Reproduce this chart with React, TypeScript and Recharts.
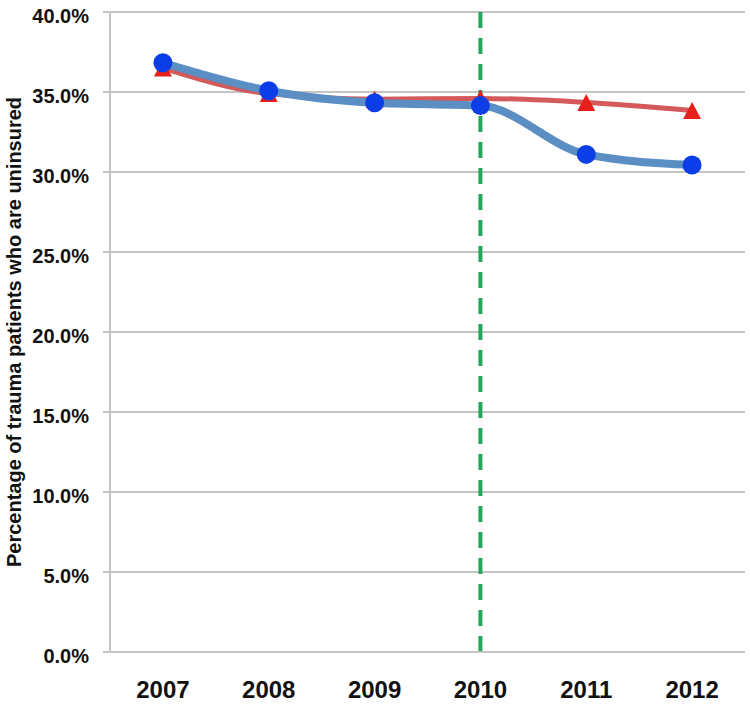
import React from 'react';
import { LineChart, Line, XAxis, YAxis, CartesianGrid, ReferenceLine } from 'recharts';

const years = ['2007', '2008', '2009', '2010', '2011', '2012'];
const bluePct = [36.83, 35.08, 34.33, 34.15, 31.1, 30.44];
const redPct = [36.5, 34.9, 34.55, 34.6, 34.35, 33.85];
const yTicks = [0, 5, 10, 15, 20, 25, 30, 35, 40];
const yearTicks = [0, 1, 2, 3, 4, 5];
const boundaryTicks = [-0.5, 0.5, 1.5, 2.5, 3.5, 4.5, 5.5];
const policyYearIndex = 3;
const yTitle = 'Percentage of trauma patients who are uninsured';

const data = years.map((y, i) => ({ i, year: y, blue: bluePct[i], red: redPct[i] }));

const FONT = '"Liberation Sans", Arial, sans-serif';
const GRID = '#c4c4c4';

const YTick = (props: any) => {
  const { x, y, payload } = props;
  return (
    <text x={x} y={y + 11} textAnchor="end" fontFamily={FONT} fontWeight={700} fontSize={20} fill="#111">
      {Number(payload.value).toFixed(1)}%
    </text>
  );
};

const XTick = (props: any) => {
  const { x, y, payload } = props;
  return (
    <text x={x} y={y + 45} textAnchor="middle" fontFamily={FONT} fontWeight={700} fontSize={24} fill="#111">
      {years[payload.value]}
    </text>
  );
};

const Triangle = (props: any) => {
  const { cx, cy, index } = props;
  if (cx == null || cy == null) return <g key={`t-${index}`} />;
  const w = 9;
  const h = 8.5;
  return (
    <polygon
      key={`t-${index}`}
      points={`${cx},${cy - h} ${cx - w},${cy + h} ${cx + w},${cy + h}`}
      fill="#e8201c"
      stroke="none"
    />
  );
};

const YTitle = (props: any) => {
  const vb = props.viewBox || { x: 0, y: 12, width: 110, height: 640 };
  const cx = vb.x + 14;
  const cy = vb.y + vb.height / 2;
  return (
    <text
      x={cx}
      y={cy}
      transform={`rotate(-90 ${cx} ${cy})`}
      textAnchor="middle"
      dominantBaseline="central"
      fontFamily={FONT}
      fontWeight={700}
      fontSize={20}
      fill="#111"
    >
      {yTitle}
    </text>
  );
};

export default function App() {
  return (
    <div style={{ position: 'absolute', left: 0, top: 0, background: '#fff' }}>
      <LineChart width={750} height={706} data={data} margin={{ top: 12, right: 5, bottom: 0, left: 0 }}>
        <CartesianGrid horizontal={true} vertical={false} stroke={GRID} strokeWidth={2} />
        <XAxis
          xAxisId="bounds"
          type="number"
          dataKey="i"
          domain={[-0.5, 5.5]}
          ticks={boundaryTicks}
          tick={false}
          tickLine={{ stroke: GRID, strokeWidth: 2 }}
          tickSize={10}
          axisLine={{ stroke: GRID, strokeWidth: 2 }}
          height={1}
          allowDataOverflow
        />
        <XAxis
          xAxisId="labels"
          type="number"
          dataKey="i"
          domain={[-0.5, 5.5]}
          ticks={yearTicks}
          tick={<XTick />}
          tickLine={false}
          tickSize={0}
          tickMargin={0}
          axisLine={false}
          height={53}
          interval={0}
          allowDataOverflow
        />
        <YAxis
          type="number"
          domain={[0, 40]}
          ticks={yTicks}
          width={110}
          tick={<YTick />}
          tickSize={7}
          tickMargin={14}
          tickLine={{ stroke: GRID, strokeWidth: 2 }}
          axisLine={{ stroke: GRID, strokeWidth: 2 }}
          interval={0}
          label={{ content: <YTitle /> }}
        />
        <ReferenceLine
          x={policyYearIndex}
          xAxisId="labels"
          stroke="#25a55a"
          strokeWidth={4}
          strokeDasharray="16 10"
        />
        <Line
          xAxisId="labels"
          type="monotone"
          dataKey="red"
          stroke="#d4595a"
          strokeWidth={5}
          dot={Triangle}
          activeDot={false}
          isAnimationActive={false}
        />
        <Line
          xAxisId="labels"
          type="monotone"
          dataKey="blue"
          stroke="#5b8fc4"
          strokeWidth={8}
          dot={{ r: 9.5, fill: '#0b3ee6', stroke: 'none', strokeWidth: 0 }}
          activeDot={false}
          isAnimationActive={false}
        />
      </LineChart>
    </div>
  );
}
